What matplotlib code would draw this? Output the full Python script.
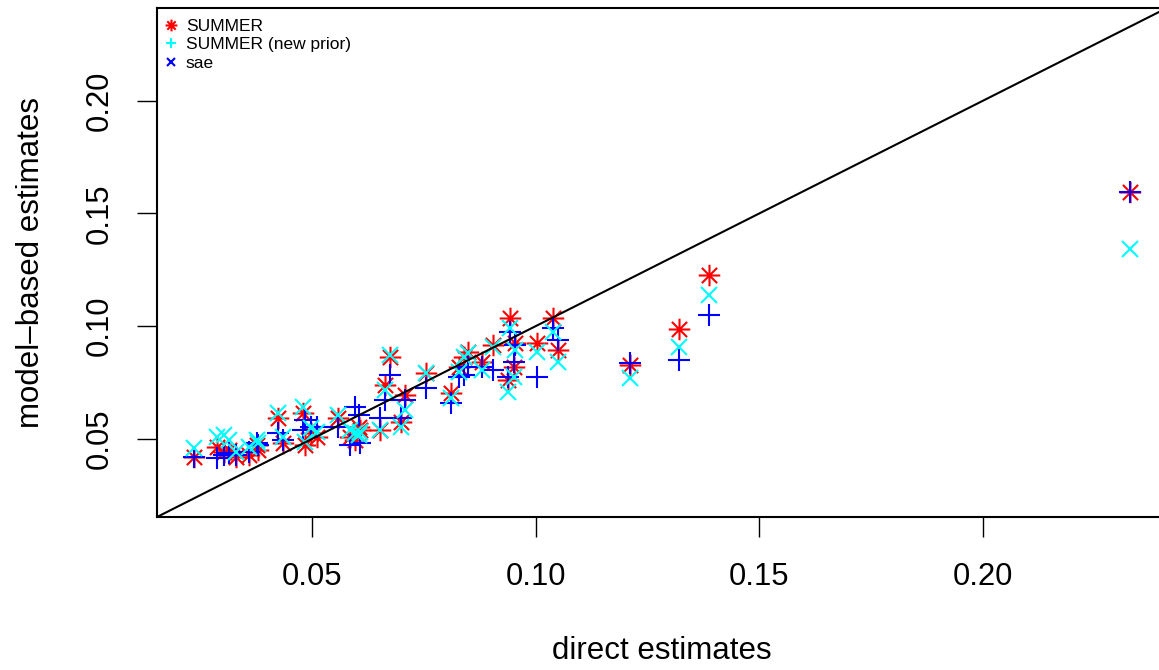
import numpy as np
import matplotlib
matplotlib.use('Agg')
import matplotlib.pyplot as plt
from matplotlib.path import Path
from matplotlib.lines import Line2D

plt.rcParams['font.family'] = ['Liberation Sans', 'DejaVu Sans']

# direct (survey) estimates per area and the three model-based estimates
direct = [0.0236, 0.0287, 0.0301, 0.0314, 0.0330, 0.0357, 0.0375, 0.0379,
          0.0422, 0.0435, 0.0478, 0.0484, 0.0496, 0.0511, 0.0558, 0.0585,
          0.0596, 0.0603, 0.0607, 0.0652, 0.0663, 0.0674, 0.0697, 0.0708,
          0.0753, 0.0809, 0.0827, 0.0838, 0.0847, 0.0880, 0.0903, 0.0938,
          0.0943, 0.0950, 0.0954, 0.1003, 0.1039, 0.1050, 0.1211, 0.1319,
          0.1386, 0.2328]
summer = [0.0420, 0.0464, 0.0442, 0.0451, 0.0420, 0.0429, 0.0473, 0.0451,
          0.0593, 0.0482, 0.0615, 0.0473, 0.0527, 0.0509, 0.0593, 0.0509,
          0.0496, 0.0553, 0.0540, 0.0540, 0.0740, 0.0864, 0.0575, 0.0695,
          0.0793, 0.0704, 0.0820, 0.0864, 0.0886, 0.0842, 0.0917, 0.0762,
          0.1037, 0.0820, 0.0926, 0.0926, 0.1037, 0.0895, 0.0828, 0.0988,
          0.1228, 0.1596]
summer_new = [0.0460, 0.0509, 0.0518, 0.0496, 0.0442, 0.0464, 0.0496, 0.0482,
              0.0615, 0.0509, 0.0642, 0.0487, 0.0549, 0.0531, 0.0607, 0.0540,
              0.0527, 0.0518, 0.0531, 0.0540, 0.0717, 0.0873, 0.0553, 0.0629,
              0.0793, 0.0682, 0.0797, 0.0864, 0.0882, 0.0806, 0.0908, 0.0709,
              0.0993, 0.0775, 0.0895, 0.0886, 0.0975, 0.0842, 0.0771, 0.0908,
              0.1139, 0.1343]
sae = [0.0420, 0.0416, 0.0429, 0.0438, 0.0429, 0.0442, 0.0482, 0.0473,
       0.0527, 0.0496, 0.0540, 0.0584, 0.0553, 0.0553, 0.0553, 0.0473,
       0.0642, 0.0607, 0.0482, 0.0593, 0.0673, 0.0784, 0.0593, 0.0673,
       0.0726, 0.0660, 0.0775, 0.0784, 0.0820, 0.0820, 0.0806, 0.0775,
       0.0975, 0.0842, 0.0917, 0.0775, 0.0993, 0.0939, 0.0837, 0.0851,
       0.1050, 0.1596]

legend_labels = ['SUMMER', 'SUMMER (new prior)', 'sae']

# asterisk like R's pch = 8: plus and cross drawn on top of each other
r = 1 / np.sqrt(2)
star = Path([(-1, 0), (1, 0), (0, -1), (0, 1), (-r, -r), (r, r), (-r, r), (r, -r)],
            [Path.MOVETO, Path.LINETO] * 4)

fig = plt.figure(figsize=(11.59, 6.70), dpi=100)
ax = fig.add_axes([0.1355, 0.2284, 0.8714, 0.7597])

# same limits on both axes: full data range plus 4%
allv = np.concatenate([direct, summer, summer_new, sae])
lo, hi = allv.min(), allv.max()
pad = 0.04 * (hi - lo)
ax.set_xlim(lo - pad, hi + pad)
ax.set_ylim(lo - pad, hi + pad)

ax.plot(direct, summer, ls='none', marker=star, ms=15.5, mec='red', mfc='none', mew=1.5)
ax.plot(direct, sae, ls='none', marker='+', ms=15.5, color='blue', mew=1.5)
ax.plot(direct, summer_new, ls='none', marker='x', ms=11, color='cyan', mew=1.5)
ax.axline((0, 0), slope=1, color='black', lw=1.5)

handles = [Line2D([], [], ls='none', marker=star, ms=8.5, mec='red', mfc='none', mew=1.5),
           Line2D([], [], ls='none', marker='+', ms=7.5, color='cyan', mew=1.5),
           Line2D([], [], ls='none', marker='x', ms=5.5, color='blue', mew=1.5)]
ax.legend(handles, legend_labels, loc='upper left', bbox_to_anchor=(0.0063, 0.979),
          frameon=False, fontsize=12.5, handlelength=0.875, handletextpad=0.42,
          labelspacing=0.2, borderpad=0, borderaxespad=0)

ticks = [0.05, 0.10, 0.15, 0.20]
ax.set_xticks(ticks, ['0.05', '0.10', '0.15', '0.20'])
ax.set_yticks(ticks, ['0.05', '0.10', '0.15', '0.20'])
ax.tick_params(direction='out', length=14.4, width=1, labelsize=22.3, pad=18)
ax.tick_params(axis='y', labelrotation=90, pad=16)
for lab in ax.get_yticklabels():
    lab.set_va('center')
for s in ax.spines.values():
    s.set_linewidth(1.5)

ax.set_xlabel('direct estimates', fontsize=22.5)
ax.set_ylabel('model\u2013based estimates', fontsize=22.5)
ax.xaxis.set_label_coords(0.5, -0.264)
ax.xaxis.label.set_va('center')
ax.yaxis.set_label_coords(-0.1248, 0.5)
ax.yaxis.label.set_va('center')

fig.savefig('out.png', dpi=100)
